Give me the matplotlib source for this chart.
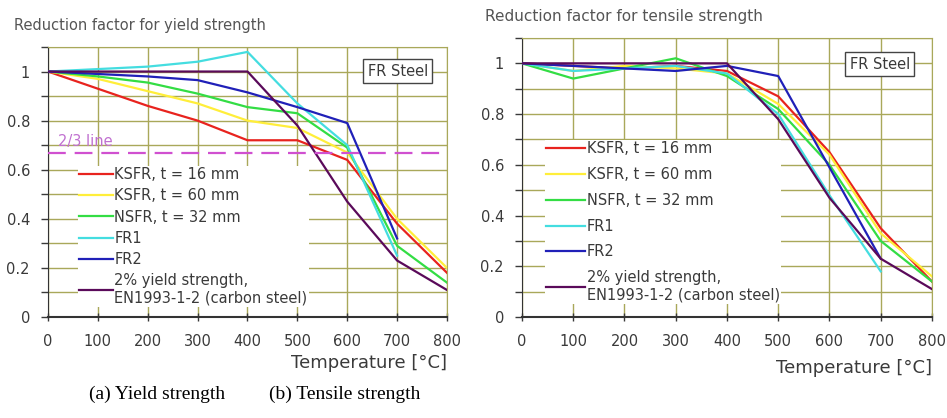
import matplotlib
matplotlib.use('Agg')
import matplotlib.pyplot as plt
from matplotlib.ticker import MultipleLocator

# Temperatures (°C)
temps = [0, 100, 200, 300, 400, 500, 600, 700, 800]
temps_fr = [0, 100, 200, 300, 400, 500, 600, 700]

# (a) yield strength reduction factors
y_ksfr16 = [1.0, 0.93, 0.86, 0.80, 0.72, 0.72, 0.64, 0.38, 0.18]
y_ksfr60 = [1.0, 0.97, 0.92, 0.87, 0.80, 0.77, 0.67, 0.40, 0.20]
y_nsfr32 = [1.0, 0.98, 0.955, 0.91, 0.855, 0.83, 0.69, 0.29, 0.14]
y_fr1 = [1.0, 1.01, 1.02, 1.04, 1.08, 0.87, 0.70, 0.25]
y_fr2 = [1.0, 0.99, 0.98, 0.965, 0.915, 0.855, 0.79, 0.32]
y_en = [1.0, 1.0, 1.0, 1.0, 1.0, 0.78, 0.47, 0.23, 0.11]

# (b) tensile strength reduction factors
t_ksfr16 = [1.0, 0.99, 0.98, 0.99, 0.97, 0.87, 0.65, 0.35, 0.14]
t_ksfr60 = [1.0, 0.97, 0.99, 0.98, 0.96, 0.84, 0.64, 0.33, 0.16]
t_nsfr32 = [1.0, 0.94, 0.98, 1.02, 0.95, 0.82, 0.60, 0.30, 0.14]
t_fr1 = [1.0, 0.97, 0.98, 0.99, 0.96, 0.80, 0.48, 0.18]
t_fr2 = [1.0, 0.99, 0.98, 0.97, 0.99, 0.95, 0.59, 0.23]
t_en = [1.0, 1.0, 1.0, 1.0, 1.0, 0.78, 0.47, 0.23, 0.11]

labels = ['KSFR, t = 16 mm', 'KSFR, t = 60 mm', 'NSFR, t = 32 mm', 'FR1', 'FR2',
          '2% yield strength,\nEN1993-1-2 (carbon steel)']
colors = ['#e8231e', '#ffee3a', '#33dd44', '#44dde0', '#2020b8', '#5a0a5a']

grid_col = '#a9a85a'
txt_col = '#3a3a3a'

plt.rcParams['font.family'] = ['DejaVu Sans']

fig = plt.figure(figsize=(9.47, 4.18), dpi=100)
ax1 = fig.add_axes([0.0507, 0.2416, 0.4213, 0.646])
ax2 = fig.add_axes([0.5512, 0.2416, 0.4329, 0.6675])


def style_axes(ax):
    ax.set_xlim(0, 800)
    ax.set_ylim(0, 1.1)
    ax.xaxis.set_major_locator(MultipleLocator(100))
    ax.yaxis.set_minor_locator(MultipleLocator(0.1))
    ax.set_yticks([0, 0.2, 0.4, 0.6, 0.8, 1.0])
    ax.set_yticklabels(['0', '0.2', '0.4', '0.6', '0.8', '1'])
    ax.grid(True, which='both', color=grid_col, lw=1.0)
    ax.set_axisbelow(True)
    ax.tick_params(axis='both', which='both', colors=txt_col, labelsize=10.5,
                   direction='inout', length=6, width=1)
    ax.tick_params(axis='y', which='both', direction='out', length=5, pad=8)
    ax.tick_params(axis='x', pad=9)
    ax.spines['left'].set_color('#333333')
    ax.spines['bottom'].set_color('#333333')
    ax.spines['bottom'].set_linewidth(1.5)
    ax.spines['top'].set_color(grid_col)
    ax.spines['right'].set_color(grid_col)


def draw(ax, series, anchor, spacing, handle, box_xy):
    for vals, lab, col in zip(series, labels, colors):
        x = temps if len(vals) == len(temps) else temps_fr
        ax.plot(x, vals, color=col, lw=1.6, label=lab, zorder=3)
    leg = ax.legend(loc='upper left', bbox_to_anchor=anchor, frameon=True,
                    fancybox=False, edgecolor='none', facecolor='white',
                    framealpha=1, fontsize=10.5, handlelength=handle,
                    handletextpad=0.1, labelspacing=spacing, borderpad=0.1,
                    borderaxespad=0)
    for t in leg.get_texts():
        t.set_color(txt_col)
    leg.set_zorder(5)
    ax.text(box_xy[0], box_xy[1], 'FR Steel', transform=ax.transAxes, ha='center',
            va='center', fontsize=10.5, color=txt_col, zorder=6,
            bbox=dict(boxstyle='square,pad=0.3', fc='white', ec='#444444', lw=1))


style_axes(ax1)
style_axes(ax2)

draw(ax1, [y_ksfr16, y_ksfr60, y_nsfr32, y_fr1, y_fr2, y_en],
     (0.075, 0.56), 0.42, 2.3, (0.877, 0.911))
draw(ax2, [t_ksfr16, t_ksfr60, t_nsfr32, t_fr1, t_fr2, t_en],
     (0.055, 0.635), 0.74, 2.7, (0.873, 0.906))

ax1.set_xlabel('Temperature [°C]', fontsize=13, color=txt_col)
ax1.xaxis.set_label_coords(1.0, -0.137)
ax1.xaxis.label.set_ha('right')
ax2.set_xlabel('Temperature [°C]', fontsize=13, color=txt_col)
ax2.xaxis.set_label_coords(1.0, -0.15)
ax2.xaxis.label.set_ha('right')

# 2/3 line on yield chart
ax1.axhline(2 / 3, color='#d050d0', lw=1.6, ls=(0, (8, 4)), zorder=4)
ax1.text(20, 0.695, '2/3 line', color='#c070d0', fontsize=10.5, zorder=4)

fig.text(0.015, 0.94, 'Reduction factor for yield strength', fontsize=10.5,
         color='#555555', va='center')
fig.text(0.512, 0.96, 'Reduction factor for tensile strength', fontsize=11,
         color='#555555', va='center')

fig.text(157 / 947, 1 - 394 / 418, '(a) Yield strength', fontsize=14,
         family='Liberation Serif', ha='center', va='center')
fig.text(345 / 947, 1 - 394 / 418, '(b) Tensile strength', fontsize=14,
         family='Liberation Serif', ha='center', va='center')

fig.savefig('out.png', dpi=100)
